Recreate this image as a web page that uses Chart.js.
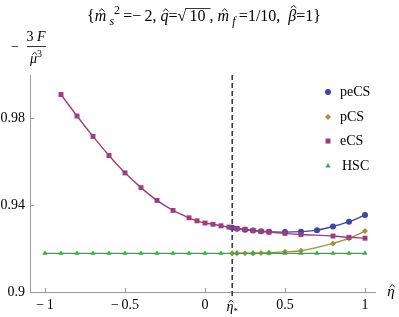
<!DOCTYPE html>
<html>
<head>
<meta charset="utf-8">
<script src="https://cdn.jsdelivr.net/npm/chart.js@4/dist/chart.umd.min.js"></script>
<style>
  html, body { margin: 0; padding: 0; background: #fff; }
</style>
</head>
<body>
<canvas id="chart" width="399" height="317"></canvas>
<script>
// values
var peEta = [0.17, 0.2, 0.25, 0.3, 0.35, 0.4, 0.5, 0.6, 0.7, 0.8, 0.9, 1];
var peVal = [0.9296, 0.9292, 0.9287, 0.9283, 0.9280, 0.9278, 0.9276, 0.9278, 0.9285, 0.9302, 0.9324, 0.9355];

var pEta = [0.17, 0.2, 0.25, 0.3, 0.35, 0.4, 0.5, 0.6, 0.8, 0.9, 1];
var pVal = [0.9178, 0.9178, 0.9179, 0.9179, 0.9180, 0.9181, 0.9185, 0.9190, 0.9224, 0.9247, 0.9281];

var eEta = [-0.9, -0.8, -0.7, -0.6, -0.5, -0.4, -0.3, -0.2, -0.1, -0.05, 0, 0.05, 0.1, 0.15,
            0.2, 0.25, 0.3, 0.35, 0.4, 0.5, 0.6, 0.8, 0.9, 1];
var eVal = [0.9910, 0.9811, 0.9717, 0.9629, 0.9549, 0.9481, 0.9422, 0.9376, 0.9342, 0.9328, 0.9318, 0.9312, 0.9305, 0.9299,
            0.9293, 0.9289, 0.9284, 0.9279, 0.9276, 0.9270, 0.9265, 0.9258, 0.9252, 0.9248];

var hscEta = [-1, -0.9, -0.8, -0.7, -0.6, -0.5, -0.4, -0.3, -0.2, -0.1, 0,
              0.1, 0.2, 0.3, 0.4, 0.5, 0.6, 0.7, 0.8, 0.9, 1];
var hscVal = [0.9178, 0.9178, 0.9178, 0.9178, 0.9178, 0.9178, 0.9178, 0.9178, 0.9178, 0.9178, 0.9178,
              0.9178, 0.9178, 0.9178, 0.9178, 0.9178, 0.9178, 0.9178, 0.9178, 0.9178, 0.9178];

var etaStar = 0.17;
var xTicks = [-1, -0.5, 0, 0.5, 1];
var xTickLabels = ['\u2212\u20091', '\u2212\u20090.5', '0', '0.5', '1'];
var yTicks = [0.9, 0.94, 0.98];
var yTickLabels = ['0.9', '0.94', '0.98'];

var seriesNames = ['peCS', 'pCS', 'eCS', 'HSC'];
var seriesColors = ['#4343a3', '#a8903f', '#9d3d7b', '#3ca64b'];
var seriesShapes = ['circle', 'rectRot', 'rect', 'triangle'];

var SERIF = '"Liberation Serif", "DejaVu Serif", serif';

function toPoints(xs, ys) {
  return xs.map(function(x, i) { return { x: x, y: ys[i] }; });
}

function seriesDataset(i, xs, ys, radius, order) {
  return {
    label: seriesNames[i],
    data: toPoints(xs, ys),
    borderColor: seriesColors[i],
    backgroundColor: seriesColors[i],
    borderWidth: 1.4,
    pointStyle: seriesShapes[i],
    pointRadius: radius,
    pointBorderWidth: 0,
    pointBackgroundColor: seriesColors[i],
    cubicInterpolationMode: 'monotone',
    order: order
  };
}

// draws a run of text pieces (italic, sub/superscript, hat, overline) left to right
function drawRich(ctx, segs, x, y, align) {
  var total = 0;
  segs.forEach(function(s) {
    ctx.font = (s.it ? 'italic ' : '') + (s.size || 16) + 'px ' + SERIF;
    s.w = ctx.measureText(s.t).width;
    total += s.w;
  });
  var cx = align === 'center' ? x - total / 2 : x;
  ctx.textAlign = 'left';
  ctx.textBaseline = 'alphabetic';
  segs.forEach(function(s) {
    var size = s.size || 16;
    var by = y + (s.dy || 0);
    ctx.font = (s.it ? 'italic ' : '') + size + 'px ' + SERIF;
    ctx.fillText(s.t, cx, by);
    if (s.hat) {
      var hx = cx + s.w / 2 + (s.it ? size * 0.08 : 0);
      var base = by - size * (s.hat === 2 ? 0.82 : 0.6);
      var hw = size * 0.17;
      ctx.beginPath();
      ctx.moveTo(hx - hw, base);
      ctx.lineTo(hx, base - size * 0.16);
      ctx.lineTo(hx + hw, base);
      ctx.lineWidth = 0.9;
      ctx.strokeStyle = '#000';
      ctx.stroke();
    }
    if (s.over) {
      ctx.beginPath();
      ctx.moveTo(cx - 1, by - size * 0.78);
      ctx.lineTo(cx + s.w + 1, by - size * 0.78);
      ctx.lineWidth = 0.8;
      ctx.strokeStyle = '#000';
      ctx.stroke();
    }
    cx += s.w;
  });
}

function drawMarker(ctx, shape, x, y, r, color) {
  ctx.fillStyle = color;
  ctx.beginPath();
  if (shape === 'circle') {
    ctx.arc(x, y, r, 0, Math.PI * 2);
  } else if (shape === 'rect') {
    ctx.rect(x - r * 0.72, y - r * 0.72, r * 1.44, r * 1.44);
  } else if (shape === 'rectRot') {
    ctx.moveTo(x, y - r); ctx.lineTo(x + r, y); ctx.lineTo(x, y + r); ctx.lineTo(x - r, y);
    ctx.closePath();
  } else {
    ctx.moveTo(x, y - r); ctx.lineTo(x + r * 0.87, y + r * 0.5); ctx.lineTo(x - r * 0.87, y + r * 0.5);
    ctx.closePath();
  }
  ctx.fill();
}

var decorPlugin = {
  id: 'decor',
  beforeDatasetsDraw: function(chart) {
    var ctx = chart.ctx;
    var xs = chart.scales.x;
    var area = chart.chartArea;
    var px = xs.getPixelForValue(etaStar);
    // dashed marker line at eta*
    ctx.save();
    ctx.setLineDash([5, 3]);
    ctx.strokeStyle = '#333';
    ctx.lineWidth = 1.5;
    ctx.beginPath();
    ctx.moveTo(px, area.top);
    ctx.lineTo(px, area.bottom + 6);
    ctx.stroke();
    ctx.restore();
  },
  afterDraw: function(chart) {
    var ctx = chart.ctx;
    var xs = chart.scales.x;
    var ys = chart.scales.y;
    var area = chart.chartArea;
    ctx.save();
    // inward tick marks
    ctx.strokeStyle = '#999';
    ctx.lineWidth = 1;
    ctx.beginPath();
    xTicks.forEach(function(v) {
      var px = Math.round(xs.getPixelForValue(v)) + 0.5;
      ctx.moveTo(px, area.bottom);
      ctx.lineTo(px, area.bottom - 4);
    });
    yTicks.forEach(function(v) {
      var py = Math.round(ys.getPixelForValue(v)) + 0.5;
      ctx.moveTo(area.left, py);
      ctx.lineTo(area.left + 4, py);
    });
    ctx.stroke();

    ctx.fillStyle = '#000';
    // eta* tick label
    var sx = xs.getPixelForValue(etaStar);
    drawRich(ctx, [{ t: '\u03B7', it: true, size: 14, hat: 1 }, { t: '*', size: 9, dy: 3 }], sx, 311, 'center');
    // x axis label
    drawRich(ctx, [{ t: '\u03B7', it: true, size: 15, hat: 1 }], 391, 296, 'center');

    // y axis label: - 3F / mu^3
    ctx.font = '14px ' + SERIF;
    ctx.textAlign = 'left';
    ctx.fillText('\u2212', 11, 51);
    drawRich(ctx, [{ t: '3 ', size: 14 }, { t: 'F', it: true, size: 14 }], 36, 41, 'center');
    ctx.beginPath();
    ctx.moveTo(27, 46.5);
    ctx.lineTo(46, 46.5);
    ctx.strokeStyle = '#000';
    ctx.lineWidth = 0.8;
    ctx.stroke();
    drawRich(ctx, [{ t: '\u03BC', it: true, size: 14, hat: 1 }, { t: '3', size: 10, dy: -6 }], 36, 63, 'center');

    // title
    ctx.fillStyle = '#000';
    drawRich(ctx, [
      { t: '{' },
      { t: 'm', it: true, hat: 1 },
      { t: '\u2009' },
      { t: 's', it: true, size: 12, dy: 4 },
      { t: '2', size: 12, dy: -7 },
      { t: '\u2009=\u2212\u20092, ' },
      { t: 'q', it: true, hat: 1 },
      { t: '=\u221A' },
      { t: '\u200910 ', over: true },
      { t: ', ' },
      { t: 'm', it: true, hat: 1 },
      { t: '\u2009' },
      { t: 'f', it: true, size: 12, dy: 4 },
      { t: '\u2009=1/10,  ' },
      { t: '\u03B2', it: true, hat: 2 },
      { t: '=1}' }
    ], 204, 21, 'center');

    // legend
    var ly = [92, 117, 141, 166];
    var lr = [3, 3, 3.5, 3];
    seriesNames.forEach(function(name, i) {
      drawMarker(ctx, seriesShapes[i], 328, ly[i], lr[i], seriesColors[i]);
      ctx.fillStyle = '#000';
      ctx.font = '14px ' + SERIF;
      ctx.textAlign = 'left';
      ctx.textBaseline = 'middle';
      ctx.fillText(name, i === 3 ? 342 : 340, ly[i]);
    });
    ctx.restore();
  }
};

new Chart(document.getElementById('chart').getContext('2d'), {
  type: 'line',
  plugins: [decorPlugin],
  data: {
    datasets: [
      seriesDataset(0, peEta, peVal, 3, 1),
      seriesDataset(1, pEta, pVal, 3, 3),
      seriesDataset(2, eEta, eVal, 3.5, 0),
      seriesDataset(3, hscEta, hscVal, 3, 2)
    ]
  },
  options: {
    responsive: false,
    animation: false,
    layout: { padding: { top: 75, right: 24, left: 0, bottom: 0 } },
    plugins: {
      legend: { display: false },
      tooltip: { enabled: false },
      title: { display: false }
    },
    scales: {
      x: {
        type: 'linear',
        min: -1.09375,
        max: 1.0625,
        afterBuildTicks: function(s) { s.ticks = xTicks.map(function(v) { return { value: v }; }); },
        afterFit: function(s) { s.height = 25; },
        grid: { display: false, drawTicks: false },
        border: { color: '#999', width: 1 },
        ticks: {
          color: '#000',
          padding: 5,
          maxRotation: 0,
          autoSkip: false,
          font: { family: SERIF, size: 14 },
          callback: function(v) { var i = xTicks.indexOf(v); return i < 0 ? '' : xTickLabels[i]; }
        }
      },
      y: {
        min: 0.9,
        max: 1.0,
        afterBuildTicks: function(s) { s.ticks = yTicks.map(function(v) { return { value: v }; }); },
        afterFit: function(s) { s.width = 30; },
        grid: { display: false, drawTicks: false },
        border: { color: '#999', width: 1 },
        ticks: {
          color: '#000',
          padding: 5,
          autoSkip: false,
          font: { family: SERIF, size: 14 },
          callback: function(v) { var i = yTicks.indexOf(v); return i < 0 ? '' : yTickLabels[i]; }
        }
      }
    }
  }
});
</script>
</body>
</html>
